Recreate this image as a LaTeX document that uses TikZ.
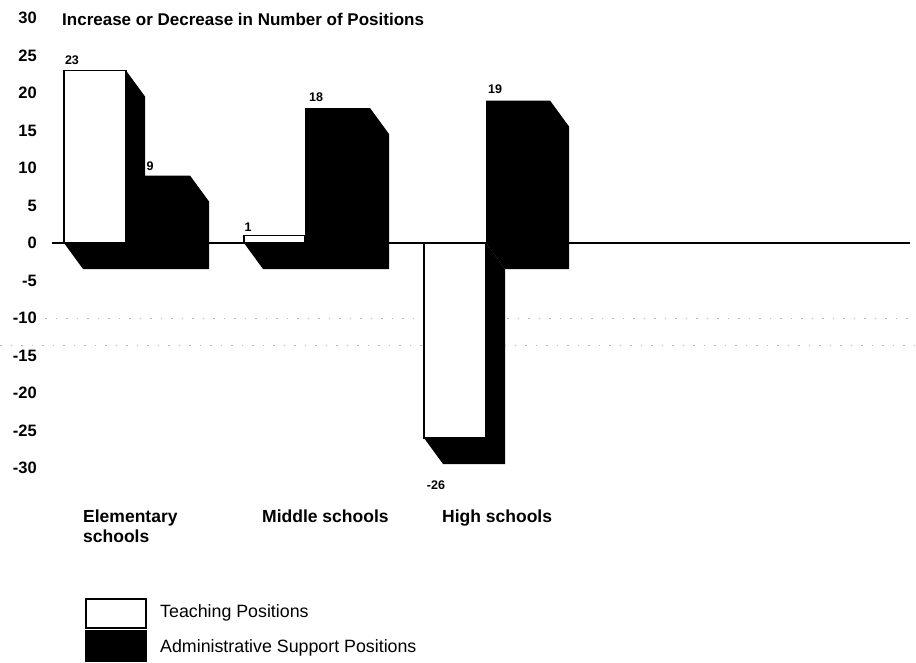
\documentclass[tikz,border=0pt]{standalone}
\usepackage{fontspec}
\setmainfont{Liberation Sans}
\usetikzlibrary{calc}
\newcommand\prismhull[4]{%
  \fill[black] (#1,#3) -- (#2,#3) -- ({#2+19},{#3+26}) -- ({#2+19},{#4+26})
    -- ({#1+19},{#4+26}) -- (#1,#4) -- cycle;}
\begin{document}
\begin{tikzpicture}[x=1pt,y=-1pt,
  axislbl/.style={anchor=east,font=\fontsize{16.5}{18}\selectfont\bfseries,inner sep=0pt},
  vallbl/.style={font=\fontsize{12.5}{14}\selectfont\bfseries,inner sep=0pt},
  catlbl/.style={anchor=north west,align=left,font=\fontsize{17.5}{20}\selectfont\bfseries,inner sep=0pt},
  leglbl/.style={anchor=west,font=\fontsize{17.8}{19}\selectfont,inner sep=0pt},
  teachface/.style={fill=white,draw=black,line width=1.6pt},
  adminface/.style={fill=black},
  noise/.style={gray!55,line width=0.6pt,dash pattern=on 1.5pt off 9pt}]
\useasboundingbox (0,0) rectangle (916,662);
\fill[white] (0,0) rectangle (916,662);
% scan noise lines
\draw[noise] (45,318) -- (916,318);
\draw[noise] (0,345) -- (916,345);
% zero line
\coordinate (z0) at (52,243);
\coordinate (z1) at (910,243);
\draw[line width=1.8pt] (z0) -- (z1);
% title and axis
\node[anchor=west,font=\fontsize{17}{18}\selectfont\bfseries,inner sep=0pt] (title) at (62,19) {Increase or Decrease in Number of Positions};
\foreach \v in {30,25,...,-30} {
  \node[axislbl] (ax\v) at (37,{243-7.5*\v}) {\v};
}
% Elementary
\prismhull{64}{126}{70.5}{243}
\prismhull{126}{190}{175.5}{243}
\filldraw[teachface] (64,70.5) rectangle (126,243);
\fill[adminface] (126,175.5) rectangle (190,243);
% Middle
\prismhull{244}{305}{235.5}{243}
\prismhull{305}{370}{108}{243}
\filldraw[teachface] (244,235.5) rectangle (305,243);
\fill[adminface] (305,108) rectangle (370,243);
% High
\prismhull{424}{486}{243}{438}
\prismhull{486}{550}{100.5}{243}
\filldraw[teachface] (424,243) rectangle (486,438);
\fill[adminface] (486,100.5) rectangle (550,243);
% value labels
\node[vallbl] (v1) at (72,60) {23};
\node[vallbl] (v2) at (150,166) {9};
\node[vallbl] (v3) at (248,227) {1};
\node[vallbl] (v4) at (316,97) {18};
\node[vallbl] (v5) at (495,89) {19};
\node[vallbl] (v6) at (436,485) {-26};
% categories
\node[catlbl] (c1) at (83,510) {Elementary\\schools};
\node[catlbl] (c2) at (262,510) {Middle schools};
\node[catlbl] (c3) at (442,510) {High schools};
% legend
\filldraw[teachface] (86,599) rectangle (146,628);
\fill[black] (85,630) rectangle (147,662);
\node[leglbl] (l1) at (160,613) {Teaching Positions};
\node[leglbl] (l2) at (160,648) {Administrative Support Positions};
\end{tikzpicture}
\end{document}
